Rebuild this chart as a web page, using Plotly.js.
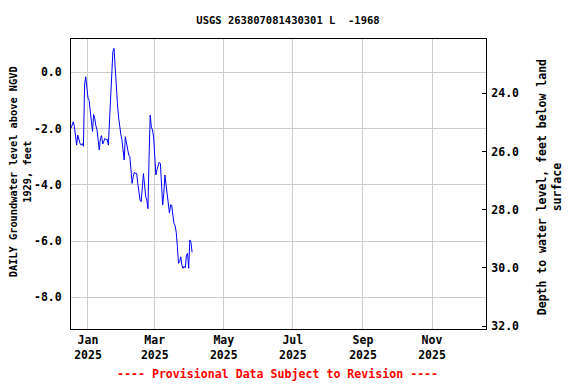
<!DOCTYPE html>
<html>
<head>
<meta charset="utf-8">
<script src="https://cdn.plot.ly/plotly-3.0.1.min.js"></script>
<style>html,body{margin:0;padding:0;background:#fff;}#chart{width:576px;height:384px;}</style>
</head>
<body>
<div id="chart"></div>
<script>
// Daily groundwater level (ft above NGVD 1929), one value per day from startDate
const startDate = '2024-12-17';
const levels = [
  -1.99, -1.85, -1.76, -1.93, -2.41, -2.59, -2.23, -2.41, -2.53, -2.59,
  -2.53, -2.63, -0.45, -0.16, -0.60, -0.91, -1.00, -1.40, -1.85, -2.10,
  -1.50, -1.64, -1.91, -2.05, -2.41, -2.76, -2.35, -2.25, -2.55, -2.41,
  -2.35, -2.40, -2.38, -2.59, -1.76, -0.50, 0.30, 0.73, 0.85, 0.08,
  -0.80, -1.10, -1.58, -2.00, -2.20, -2.40, -2.70, -3.12, -2.29, -2.50,
  -2.76, -2.94, -3.00, -3.36, -3.95, -3.71, -3.55, -3.60, -3.59, -3.95,
  -4.31, -4.54, -4.60, -4.10, -3.60, -4.00, -4.42, -4.54, -4.85, -3.00,
  -1.52, -1.95, -2.05, -2.30, -3.24, -3.65, -3.45, -3.30, -3.20, -3.25,
  -4.00, -4.72, -4.30, -3.65, -4.00, -4.40, -4.85, -5.00, -4.72, -4.72,
  -5.07, -5.37, -5.45, -5.70, -6.20, -6.79, -6.73, -6.56, -6.85, -6.97,
  -6.90, -6.95, -6.50, -6.44, -6.97, -5.96, -6.05, -6.40
];

const xTickVals = ['2025-01-01', '2025-03-01', '2025-05-01', '2025-07-01', '2025-09-01', '2025-11-01'];
const xTickText = ['Jan<br>2025', 'Mar<br>2025', 'May<br>2025', 'Jul<br>2025', 'Sep<br>2025', 'Nov<br>2025'];
const yTickVals = [0, -2, -4, -6, -8];
const yTickText = ['0.0', '-2.0', '-4.0', '-6.0', '-8.0'];
const y2TickVals = [24, 26, 28, 30, 32];
const y2TickText = ['24.0', '26.0', '28.0', '30.0', '32.0'];

const titleText = 'USGS 263807081430301 L  -1968';
const leftTitle = 'DAILY Groundwater level above NGVD<br>1929, feet';
const rightTitle = 'Depth to water level, feet below land<br>surface';
const footer = '---- Provisional Data Subject to Revision ----';

const dates = [];
{
  const d0 = new Date(startDate + 'T00:00:00Z');
  for (let i = 0; i < levels.length; i++) {
    const d = new Date(d0.getTime() + i * 86400000);
    dates.push(d.toISOString().slice(0, 10));
  }
}

const FONT = 'DejaVu Sans Mono';

const traces = [
  {x: dates, y: levels, type: 'scatter', mode: 'lines',
   line: {color: '#0000ff', width: 1}, hoverinfo: 'skip', showlegend: false},
  // empty trace so the right-hand depth axis is drawn
  {x: [], y: [], type: 'scatter', mode: 'lines', yaxis: 'y2', hoverinfo: 'skip', showlegend: false}
];

const layout = {
  width: 576, height: 384,
  margin: {l: 71.3, r: 89.7, t: 39, b: 55, pad: 0},
  paper_bgcolor: '#ffffff', plot_bgcolor: '#ffffff',
  font: {family: FONT, size: 11.5, color: '#000000', weight: 'bold'},
  showlegend: false,
  title: {text: titleText, x: 0.5, xanchor: 'center', y: 1 - 20/384, yanchor: 'middle',
          font: {family: FONT, size: 10.5, color: '#000', weight: 'bold'}},
  xaxis: {
    type: 'date', range: ['2024-12-17 00:00', '2025-12-18 17:00'],
    tickvals: xTickVals, ticktext: xTickText, ticks: '',
    showgrid: true, gridcolor: '#cccccc', gridwidth: 1,
    showline: true, linecolor: '#000', linewidth: 1, mirror: true,
    zeroline: false, tickfont: {family: FONT, size: 11.5, weight: 'bold'}
  },
  yaxis: {
    range: [-9.127, 1.184], tickvals: yTickVals, ticktext: yTickText,
    ticks: '', showgrid: true, gridcolor: '#cccccc', gridwidth: 1,
    showline: true, linecolor: '#000', linewidth: 1, mirror: true,
    zeroline: false, ticklabelstandoff: 6,
    tickfont: {family: FONT, size: 11.5, weight: 'bold'}
  },
  yaxis2: {
    overlaying: 'y', side: 'right', anchor: 'x',
    range: [32.10, 22.134], autorange: false, tickvals: y2TickVals, ticktext: y2TickText,
    ticks: 'inside', ticklen: 4, tickcolor: '#000',
    showgrid: false, showline: true, linecolor: '#000', linewidth: 1,
    zeroline: false, ticklabelstandoff: 2,
    tickfont: {family: FONT, size: 11.5, weight: 'bold'}
  },
  annotations: [
    {text: leftTitle, xref: 'paper', yref: 'paper', x: -71.3/415, y: (329-172)/290,
     xanchor: 'left', yanchor: 'middle', textangle: -90, showarrow: false, align: 'center',
     font: {family: FONT, size: 10.3, color: '#000', weight: 'bold'}, xshift: 5},
    {text: rightTitle, xref: 'paper', yref: 'paper', x: 1 + (533 - 486.3)/415, y: (329-187)/290,
     xanchor: 'left', yanchor: 'middle', textangle: -90, showarrow: false, align: 'center',
     font: {family: FONT, size: 11.5, color: '#000', weight: 'bold'}},
    {text: footer, xref: 'paper', yref: 'paper', x: (277.5 - 71.3)/415, y: -(374.3-329)/290,
     xanchor: 'center', yanchor: 'middle', showarrow: false,
     font: {family: FONT, size: 11.6, color: '#ff0000', weight: 'bold'}}
  ]
};

Plotly.newPlot('chart', traces, layout, {staticPlot: true, displayModeBar: false});
</script>
</body>
</html>
